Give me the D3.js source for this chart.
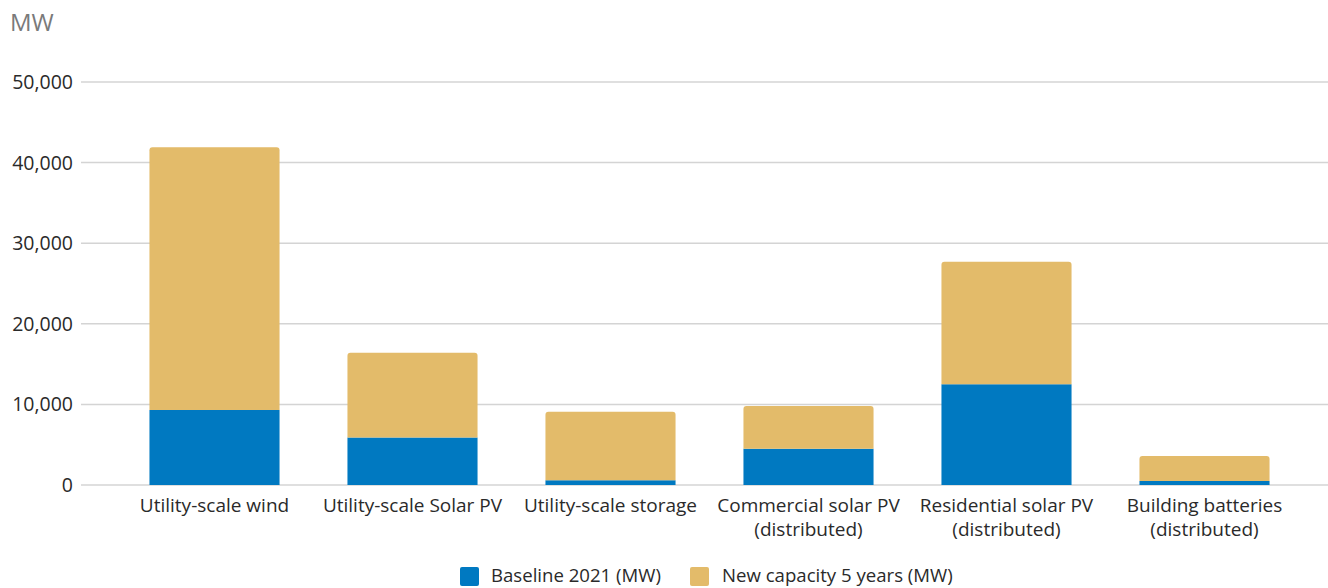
<!DOCTYPE html>
<html>
<head>
<meta charset="utf-8">
<script src="https://cdn.jsdelivr.net/npm/d3@7"></script>
<style>
  body { margin: 0; background: #fff; }
  svg text { font-family: "Open Sans", Lato, sans-serif; }
</style>
</head>
<body>
<svg id="chart" width="1328" height="588"></svg>
<script>
// Installed capacity by technology (MW)
const categories = [
  ["Utility-scale wind"],
  ["Utility-scale Solar PV"],
  ["Utility-scale storage"],
  ["Commercial solar PV", "(distributed)"],
  ["Residential solar PV", "(distributed)"],
  ["Building batteries", "(distributed)"]
];
const baseline2021 = [9300, 5900, 600, 4500, 12500, 500];
const newCapacity5y = [32600, 10500, 8500, 5300, 15200, 3100];
const seriesNames = ["Baseline 2021 (MW)", "New capacity 5 years (MW)"];
const seriesColors = ["#0079c1", "#e3bb6a"];
const yTicks = [0, 10000, 20000, 30000, 40000, 50000];

const svg = d3.select("#chart");

const x = d3.scaleBand()
  .domain(categories.map((d, i) => i))
  .range([115.5, 1303.5])
  .paddingInner(0.343)
  .paddingOuter(0.1715);

const y = d3.scaleLinear().domain([0, 50000]).range([485, 82]);

// Gridlines
svg.append("g")
  .selectAll("line")
  .data(yTicks)
  .join("line")
  .attr("x1", 81).attr("x2", 1328)
  .attr("y1", d => y(d)).attr("y2", d => y(d))
  .attr("stroke", "#d4d4d4")
  .attr("stroke-width", 1.5);

// Y axis labels
svg.append("g")
  .selectAll("text")
  .data(yTicks)
  .join("text")
  .attr("x", 73)
  .attr("y", d => y(d))
  .attr("dy", "0.36em")
  .attr("text-anchor", "end")
  .attr("font-size", 19.5)
  .attr("fill", "#2a2a2a")
  .text(d => d3.format(",")(d));

// Unit label
svg.append("text")
  .attr("x", 10).attr("y", 31)
  .attr("font-size", 24)
  .attr("fill", "#7a7a7a")
  .text("MW");

// Stacked bars
const rows = categories.map((c, i) => ({ i, base: baseline2021[i], add: newCapacity5y[i] }));
const stack = d3.stack().keys(["base", "add"])(rows);

function topRounded(x0, y0, w, h, r) {
  r = Math.min(r, h, w / 2);
  return `M${x0},${y0 + h}V${y0 + r}Q${x0},${y0} ${x0 + r},${y0}H${x0 + w - r}Q${x0 + w},${y0} ${x0 + w},${y0 + r}V${y0 + h}Z`;
}

stack.forEach((layer, li) => {
  svg.append("g")
    .selectAll("path")
    .data(layer)
    .join("path")
    .attr("fill", seriesColors[li])
    .attr("d", d => {
      const x0 = x(d.data.i), w = x.bandwidth();
      const yt = y(d[1]), yb = y(d[0]);
      return li === 1 ? topRounded(x0, yt, w, yb - yt, 3)
                      : `M${x0},${yb}V${yt}H${x0 + w}V${yb}Z`;
    });
});

// Category labels
const catG = svg.append("g");
categories.forEach((lines, i) => {
  const t = catG.append("text")
    .attr("x", x(i) + x.bandwidth() / 2)
    .attr("y", 512)
    .attr("text-anchor", "middle")
    .attr("font-size", 19)
    .attr("fill", "#2a2a2a");
  lines.forEach((ln, k) => {
    t.append("tspan")
      .attr("x", x(i) + x.bandwidth() / 2)
      .attr("dy", k === 0 ? 0 : 24)
      .text(ln);
  });
});

// Legend
const legendItems = [
  { name: seriesNames[0], color: seriesColors[0], sx: 460, tx: 491 },
  { name: seriesNames[1], color: seriesColors[1], sx: 690, tx: 722 }
];
const lg = svg.append("g");
legendItems.forEach(d => {
  lg.append("rect")
    .attr("x", d.sx).attr("y", 567)
    .attr("width", 19).attr("height", 19)
    .attr("rx", 2)
    .attr("fill", d.color);
  lg.append("text")
    .attr("x", d.tx).attr("y", 582)
    .attr("font-size", 18.6)
    .attr("fill", "#2a2a2a")
    .text(d.name);
});
</script>
</body>
</html>
